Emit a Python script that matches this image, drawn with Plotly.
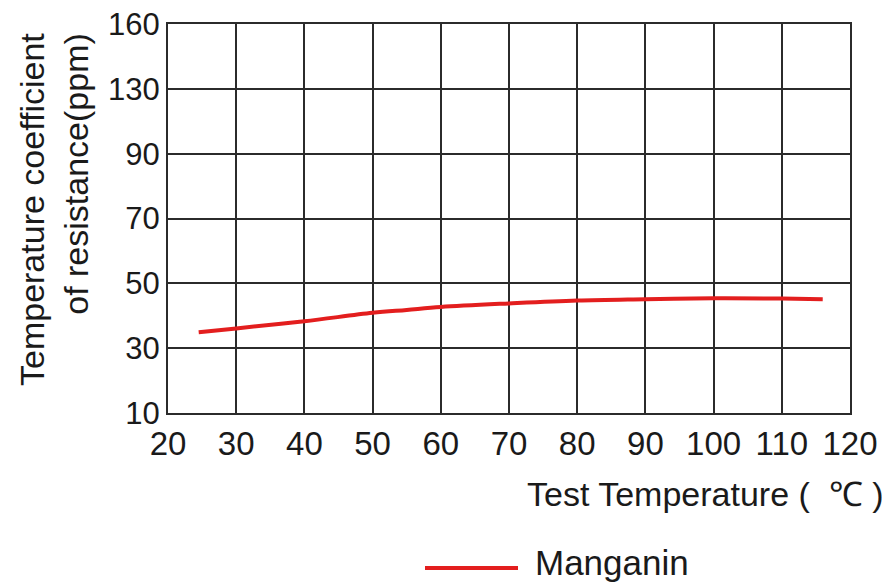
import plotly.graph_objects as go

# Data
temps = [24.5, 30, 40, 50, 55, 60, 70, 80, 90, 100, 110, 116]
tcr = [34.9, 36.1, 38.3, 40.9, 41.8, 42.7, 43.8, 44.7, 45.1, 45.4, 45.3, 45.1]
series_name = "Manganin"

x_ticks = [20, 30, 40, 50, 60, 70, 80, 90, 100, 110, 120]
# The y gridlines are evenly spaced but labelled non-uniformly
y_tick_pos = [10, 30, 50, 70, 90, 110, 130]
y_tick_labels = ["10", "30", "50", "70", "90", "130", "160"]

FONT = "Liberation Sans, Arial, sans-serif"
RED = "#e31e1e"
GRID = "#2b2b2b"
TXT = "#1a1a1a"

# plot-area box in window pixels (used only to place titles/legend in paper units)
PL, PR, PT, PB = 168, 850, 24, 413
PW, PH = PR - PL, PB - PT


def px(xw):
    return (xw - PL) / PW


def py(yw):
    return (PB - yw) / PH


fig = go.Figure()
fig.add_trace(go.Scatter(
    x=temps, y=tcr, mode="lines", name=series_name,
    line=dict(color=RED, width=4, shape="spline"),
    showlegend=False,
))

fig.update_layout(
    width=882, height=577,
    margin=dict(l=PL - 8, r=882 - (PR - 8), t=PT - 8, b=577 - (PB - 8), autoexpand=False),
    paper_bgcolor="white", plot_bgcolor="white",
    font=dict(family=FONT, color=TXT),
    xaxis=dict(
        range=[20, 120], tickvals=x_ticks, showgrid=True, gridcolor=GRID, gridwidth=2,
        showline=True, linecolor=GRID, linewidth=2, mirror=True, zeroline=False,
        tickfont=dict(size=33, family=FONT, color=TXT), ticks="",
        ticklabeloverflow="allow", automargin=False,
    ),
    yaxis=dict(
        range=[10, 130], tickvals=y_tick_pos, ticktext=y_tick_labels,
        showgrid=True, gridcolor=GRID, gridwidth=2,
        showline=True, linecolor=GRID, linewidth=2, mirror=True, zeroline=False,
        tickfont=dict(size=31, family=FONT, color=TXT), ticks="",
        ticklabeloverflow="allow", automargin=False,
    ),
)

# Axis titles
fig.add_annotation(
    text="Test Temperature (  ℃ )", xref="paper", yref="paper",
    x=px(886), y=py(494), xanchor="right", yanchor="middle",
    showarrow=False, font=dict(size=34, family=FONT, color=TXT),
)
fig.add_annotation(
    text="Temperature coefficient<br>of resistance(ppm)", xref="paper", yref="paper",
    x=px(54), y=py(210), xanchor="center", yanchor="middle",
    textangle=-90, align="right", showarrow=False,
    font=dict(size=34, family=FONT, color=TXT),
)

# Legend drawn manually
fig.add_shape(type="line", xref="paper", yref="paper",
              x0=px(425), x1=px(518), y0=py(568), y1=py(568),
              line=dict(color=RED, width=4))
fig.add_annotation(
    text=series_name, xref="paper", yref="paper",
    x=px(533), y=py(562), xanchor="left", yanchor="middle",
    showarrow=False, font=dict(size=35, family=FONT, color=TXT),
)

fig.write_html("out.html")
